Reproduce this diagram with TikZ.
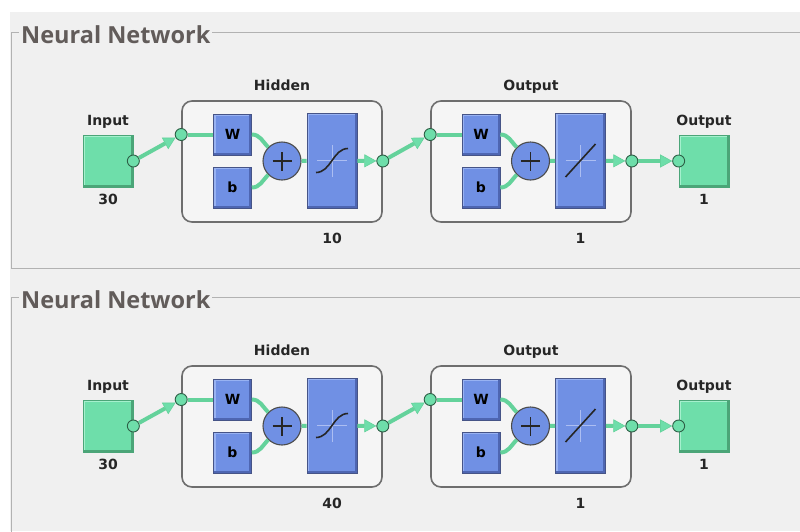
\documentclass[tikz,border=0pt]{standalone}
\usepackage{fontspec}
\setmainfont{DejaVu Sans}
\newfontfamily\headfont{Open Sans}
\usetikzlibrary{arrows.meta, positioning}

\definecolor{panelgray}{RGB}{240,240,240}
\definecolor{framegray}{RGB}{178,178,178}
\definecolor{titlegray}{RGB}{98,92,90}
\definecolor{layerfill}{RGB}{245,245,245}
\definecolor{layeredge}{RGB}{110,110,110}
\definecolor{mint}{RGB}{110,222,170}
\definecolor{mintline}{RGB}{100,210,155}
\definecolor{mintdark}{RGB}{45,95,70}
\definecolor{mintlight}{RGB}{165,240,205}
\definecolor{mintshade}{RGB}{75,165,120}
\definecolor{boxblue}{RGB}{112,144,228}
\definecolor{bluelight}{RGB}{152,178,242}
\definecolor{blueshade}{RGB}{78,102,178}
\definecolor{blueedge}{RGB}{70,84,135}
\definecolor{crossblue}{RGB}{172,190,242}

\tikzset{
    bevel/.style n args={2}{path picture={
        \draw[#1, line width=4pt] (path picture bounding box.south west) -- (path picture bounding box.north west) -- (path picture bounding box.north east);
        \draw[#2, line width=5pt] (path picture bounding box.south west) -- (path picture bounding box.south east) -- (path picture bounding box.north east);}},
    wbox/.style={draw=blueedge, fill=boxblue, line width=0.7pt, minimum width=38pt, minimum height=41pt, inner sep=0pt, font=\bfseries\fontsize{14}{14}\selectfont, bevel={bluelight}{blueshade}},
    tfbox/.style={wbox, minimum width=50pt, minimum height=95pt},
    sumnode/.style={circle, draw=black!70, fill=boxblue, line width=1.1pt, minimum size=38pt, inner sep=0pt,
        path picture={\draw[black!85, line width=1.6pt] ([xshift=-9.5pt]path picture bounding box.center) -- ([xshift=9.5pt]path picture bounding box.center) ([yshift=-9.5pt]path picture bounding box.center) -- ([yshift=9.5pt]path picture bounding box.center);}},
    iobox/.style={draw=mintshade, fill=mint, line width=0.7pt, minimum width=50pt, minimum height=52pt, bevel={mintlight}{mintshade}},
    layerbox/.style={draw=layeredge, fill=layerfill, line width=1.6pt, rounded corners=10pt, minimum width=200pt, minimum height=121pt},
    port/.style={circle, draw=mintdark, fill=mint, line width=0.9pt, minimum size=12pt, inner sep=0pt},
    link/.style={mintline, line width=4pt},
    arrowlink/.style={link, -{Triangle[length=12pt, width=13pt, line width=0.6pt, fill=mint]}},
    lbl/.style={font=\bfseries\fontsize{14}{14}\selectfont, text=black!85, text height=10.5pt, text depth=3.5pt},
    headline/.style={font=\headfont\bfseries\fontsize{23.5}{23.5}\selectfont, text=titlegray, fill=panelgray, inner xsep=2pt, inner ysep=1pt},
    frame/.style={draw=framegray, line width=1pt},
    tfcross/.style={crossblue, line width=1pt},
    glyph/.style={black!85, line width=1.6pt},
}

\begin{document}
\begin{tikzpicture}[x=1pt, y=1pt]
    \useasboundingbox (0,0) rectangle (800,-531);
    \fill[white] (0,0) rectangle (800,-531);
    \fill[panelgray] (10,-12) rectangle (800,-531);

    \foreach \dy/\nh in {0/10, 265/40}{
    \begin{scope}[yshift=-\dy pt]
        % frame and title
        \draw[frame] (800,-32) -- (11,-32) -- (11,-268) -- (800,-268);
        \node[headline, anchor=base west] (title) at (19,-43) {Neural Network};

        % input block
        \node[iobox] (inp) at (108,-161) {};
        \node[lbl, above=2.2pt of inp] (inplbl) {Input};
        \node[lbl, below=3.4pt of inp] (inpnum) {30};
        \node[port] (inpo) at (inp.east) {};

        % hidden layer
        \node[layerbox] (hid) at (282,-161.5) {};
        \node[lbl, above=2.5pt of hid] (hidlbl) {Hidden};
        \node[wbox] (hw) at (232.5,-134.5) {W};
        \node[wbox] (hb) at (232.5,-187.5) {b};
        \node[sumnode] (hsum) at (282,-161) {};
        \node[tfbox] (htf) at (332,-160.5) {};
        \draw[tfcross] (htf.center) ++(-15,0) -- ++(30,0) (htf.center) ++(0,-16) -- ++(0,32);
        \draw[glyph] (htf.center) ++(-16,-12) .. controls +(15,0) and +(-15,0) .. ++(32,24);
        \node[lbl, anchor=north, yshift=-6.4pt] (hidnum) at (htf |- hid.south) {\nh};
        \node[port] (hidi) at (hid.west |- hw) {};
        \node[port] (hido) at (hid.east |- hsum) {};

        % output layer
        \node[layerbox] (outl) at (531,-161.5) {};
        \node[lbl, above=2.5pt of outl] (outllbl) {Output};
        \node[wbox] (ow) at (481,-134.5) {W};
        \node[wbox] (ob) at (481,-187.5) {b};
        \node[sumnode] (osum) at (530.5,-161) {};
        \node[tfbox] (otf) at (580.5,-160.5) {};
        \draw[tfcross] (otf.center) ++(-15,0) -- ++(30,0) (otf.center) ++(0,-16) -- ++(0,32);
        \draw[glyph] (otf.center) ++(-15,-16.5) -- ++(30,33);
        \node[lbl, anchor=north, yshift=-6.4pt] (outlnum) at (otf |- outl.south) {1};
        \node[port] (outi) at (outl.west |- ow) {};
        \node[port] (outo) at (outl.east |- osum) {};

        % output block
        \node[iobox] (outp) at (704,-161) {};
        \node[lbl, above=2.2pt of outp] (outplbl) {Output};
        \node[lbl, below=3.4pt of outp] (outpnum) {1};
        \node[port] (outpi) at (outp.west) {};

        % connections
        \draw[arrowlink] (inpo) -- (hidi);
        \draw[link] (hidi) -- (hw);
        \draw[link] (hw.east) to[out=0, in=135] (hsum);
        \draw[link] (hb.east) to[out=0, in=-135] (hsum);
        \draw[link] (hsum) -- (htf);
        \draw[arrowlink] (htf) -- (hido);
        \draw[arrowlink] (hido) -- (outi);
        \draw[link] (outi) -- (ow);
        \draw[link] (ow.east) to[out=0, in=135] (osum);
        \draw[link] (ob.east) to[out=0, in=-135] (osum);
        \draw[link] (osum) -- (otf);
        \draw[arrowlink] (otf) -- (outo);
        \draw[arrowlink] (outo) -- (outpi);
    \end{scope}}
\end{tikzpicture}
\end{document}
